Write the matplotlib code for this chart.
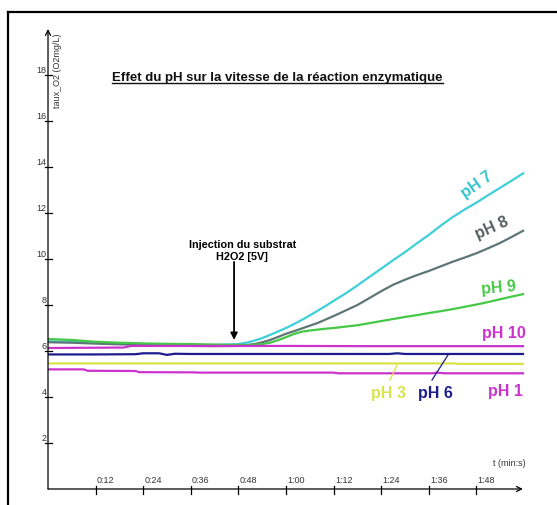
import matplotlib
matplotlib.use("Agg")
import matplotlib.pyplot as plt
from matplotlib.lines import Line2D

plt.rcParams['font.family'] = ['Liberation Sans', 'DejaVu Sans']

# ---------------- data ----------------
title = "Effet du pH sur la vitesse de la réaction enzymatique"
y_label = "taux_O2 (O2mg/L)"
x_label = "t (min:s)"
y_ticks = [2, 4, 6, 8, 10, 12, 14, 16, 18]
x_ticks = [12, 24, 36, 48, 60, 72, 84, 96, 108]
x_tick_labels = ["0:12", "0:24", "0:36", "0:48", "1:00", "1:12", "1:24", "1:36", "1:48"]

t_rise = [0, 6, 12, 18, 24, 30, 36, 42, 48, 50, 52, 54, 56, 58, 60, 62, 64, 66, 68, 70, 72,
          75, 78, 81, 84, 87, 90, 93, 96, 99, 102, 105, 108, 111, 114, 117, 120]
ph7 = [6.42, 6.40, 6.36, 6.33, 6.30, 6.28, 6.26, 6.26, 6.30, 6.36, 6.45, 6.56, 6.70, 6.85, 7.00,
       7.17, 7.35, 7.55, 7.75, 7.96, 8.18, 8.50, 8.85, 9.22, 9.58, 9.95, 10.30, 10.68, 11.05,
       11.45, 11.82, 12.15, 12.45, 12.78, 13.10, 13.42, 13.75]
ph8 = [6.38, 6.36, 6.32, 6.29, 6.26, 6.24, 6.22, 6.21, 6.22, 6.25, 6.30, 6.38, 6.48, 6.61, 6.75,
       6.86, 6.98, 7.10, 7.22, 7.37, 7.52, 7.76, 8.00, 8.30, 8.60, 8.88, 9.10, 9.30, 9.48,
       9.68, 9.88, 10.06, 10.25, 10.47, 10.70, 10.97, 11.25]
ph9 = [6.52, 6.48, 6.40, 6.36, 6.33, 6.31, 6.30, 6.28, 6.26, 6.26, 6.27, 6.30, 6.36, 6.47, 6.60,
       6.74, 6.84, 6.89, 6.93, 6.97, 7.00, 7.06, 7.12, 7.21, 7.30, 7.39, 7.48, 7.56, 7.65,
       7.73, 7.82, 7.92, 8.02, 8.13, 8.25, 8.37, 8.48]

t_ph10 = [0, 10, 19, 21, 40, 60, 80, 100, 120]
ph10 = [6.13, 6.14, 6.15, 6.22, 6.22, 6.22, 6.21, 6.21, 6.21]

t_ph6 = [0, 12, 22, 24, 28, 30, 32, 36, 48, 60, 80, 86, 88, 90, 100, 120]
ph6 = [5.85, 5.85, 5.86, 5.90, 5.90, 5.83, 5.88, 5.87, 5.87, 5.87, 5.87, 5.87, 5.90, 5.87, 5.87, 5.87]

t_ph3 = [0, 30, 60, 90, 102, 104, 120]
ph3 = [5.46, 5.46, 5.46, 5.46, 5.46, 5.44, 5.44]

t_ph1 = [0, 9, 10, 22, 23, 37, 38, 72, 73, 97, 98, 100, 120]
ph1 = [5.20, 5.20, 5.14, 5.13, 5.08, 5.07, 5.06, 5.06, 5.03, 5.03, 5.06, 5.03, 5.03]

series = [
    ("pH 7", t_rise, ph7, "#3ECFD8"),
    ("pH 8", t_rise, ph8, "#5E7676"),
    ("pH 9", t_rise, ph9, "#45C845"),
    ("pH 10", t_ph10, ph10, "#CC33CC"),
    ("pH 6", t_ph6, ph6, "#1C1C8C"),
    ("pH 3", t_ph3, ph3, "#D8E44A"),
    ("pH 1", t_ph1, ph1, "#CC33CC"),
]

# ---------------- figure ----------------
fig = plt.figure(figsize=(5.57, 5.05), dpi=100)
ax = fig.add_axes([0, 0, 1, 1])
ax.set_xlim(-12.1, 128.3)
ax.set_ylim(-0.696, 21.26)
ax.axis('off')

# outer frame (top & left)
fig.add_artist(Line2D([8/557, 8/557], [0, 1 - 12/505], transform=fig.transFigure, color='black', lw=1.6))
fig.add_artist(Line2D([8/557, 1], [1 - 12/505, 1 - 12/505], transform=fig.transFigure, color='black', lw=1.6))

# axes with arrows
ax.annotate('', xy=(0, 20.0), xytext=(0, 0), arrowprops=dict(arrowstyle='->', lw=0.9, color='black',
            shrinkA=0, shrinkB=0, mutation_scale=9))
ax.annotate('', xy=(119.7, 0), xytext=(0, 0), arrowprops=dict(arrowstyle='->', lw=0.9, color='black',
            shrinkA=0, shrinkB=0, mutation_scale=9))

for v in y_ticks:
    ax.plot([-0.75, 1.0], [v, v], color='black', lw=0.9)
    ax.text(-0.4, v - 0.02, str(v), ha='right', va='bottom', fontsize=6.5, color='#333333')
for t, lab in zip(x_ticks, x_tick_labels):
    ax.plot([t, t], [-0.2, 0.15], color='black', lw=0.9)
    ax.text(t + 0.3, 0.18, lab, ha='left', va='bottom', fontsize=6.5, color='#333333')

ax.text(2.3, 19.8, y_label, rotation=90, ha='center', va='top', fontsize=6.5, color='#333333')
ax.text(116.2, 1.09, x_label, ha='center', va='center', fontsize=6.5, color='#333333')

# data lines
for name, tt, vv, c in series:
    ax.plot(tt, vv, color=c, lw=1.6, solid_capstyle='butt', solid_joinstyle='round')

# labels
lab_kw = dict(fontsize=11.5, fontweight='bold', ha='center', va='center')
ax.text(108.1, 13.2, "pH 7", color="#33C4D0", rotation=35, **lab_kw)
ax.text(111.9, 11.35, "pH 8", color="#555F60", rotation=24, **lab_kw)
ax.text(113.7, 8.74, "pH 9", color="#45C845", rotation=5, **lab_kw)
ax.text(114.9, 6.78, "pH 10", color="#CC33CC", **lab_kw)
ax.text(115.2, 4.22, "pH 1", color="#CC33CC", **lab_kw)
ax.text(97.6, 4.17, "pH 6", color="#1C1C8C", **lab_kw)
ax.text(85.7, 4.17, "pH 3", color="#D8E44A", **lab_kw)
ax.plot([86.2, 88.0], [4.74, 5.40], color="#D8E44A", lw=0.9)
ax.plot([96.8, 100.8], [4.74, 5.82], color="#1C1C8C", lw=0.9)

# injection annotation
ax.text(49.0, 10.35, "Injection du substrat\nH2O2 [5V]", ha='center', va='center', fontsize=7.8,
        fontweight='bold', family=['Liberation Sans Narrow', 'Liberation Sans'], linespacing=1.35)
ax.annotate('', xy=(46.9, 6.48), xytext=(46.9, 9.87),
            arrowprops=dict(arrowstyle='-|>', lw=1.3, color='black', shrinkA=0, shrinkB=0,
                            mutation_scale=10))

# title with underline
ttl = ax.text(57.85, 17.85, title, ha='center', va='center', fontsize=9.5, fontweight='bold', color='#111111')
fig.canvas.draw()
bb = ttl.get_window_extent(renderer=fig.canvas.get_renderer())
W, H = fig.bbox.width, fig.bbox.height
yline = (bb.y0 + 1.5) / H
fig.add_artist(Line2D([bb.x0 / W, bb.x1 / W], [yline, yline], transform=fig.transFigure, color='#111111', lw=1.0))

fig.savefig("out.png", dpi=100)
